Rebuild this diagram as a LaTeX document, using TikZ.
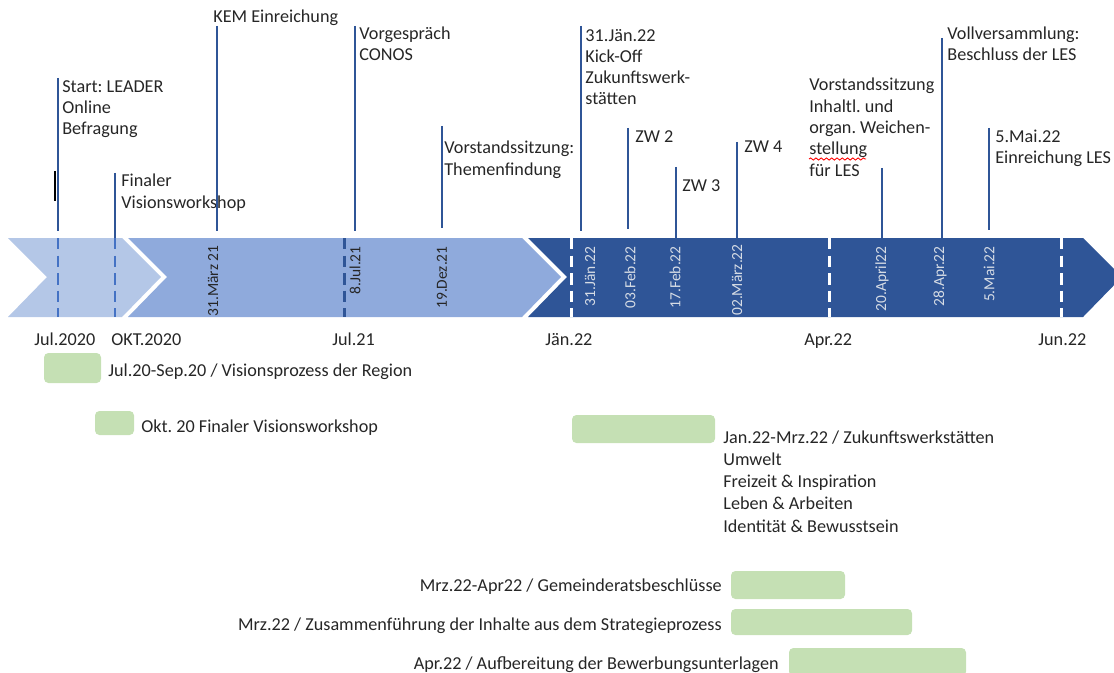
\documentclass[tikz,border=0pt]{standalone}
\usepackage{fontspec}
\setmainfont{Carlito}
\usetikzlibrary{decorations.pathmorphing}
\frenchspacing

\definecolor{bandlight}{HTML}{B4C7E7}
\definecolor{bandmid}{HTML}{8FAADC}
\definecolor{banddark}{HTML}{2F5597}
\definecolor{tickblue}{HTML}{4472C4}
\definecolor{barleaf}{HTML}{C5E0B4}
\definecolor{datelight}{HTML}{D6DCE5}

\begin{document}
\begin{tikzpicture}[
    x=0.02cm, y=-0.02cm,
    every node/.style={
        inner sep=0pt,
        text=black!85,
        font=\fontsize{10.35}{12.1}\selectfont
    },
    evline/.style={draw=banddark, line width=1.2pt},
    bandtick/.style={line width=1.7pt, dash pattern=on 6.5pt off 3.5pt},
    evtext/.style={anchor=base west, align=left},
    datetag/.style={rotate=90, anchor=east, font=\fontsize{8.8}{10}\selectfont},
    ganttbar/.style={fill=barleaf, rounded corners=2.5pt}
]
\useasboundingbox (0,0) rectangle (1114,672);

% Zeitband
\fill[banddark] (528,238) -- (1083,238) -- (1122,277) -- (1083,317) -- (528,317) -- (567,277) -- cycle;
\fill[bandmid] (128,238) -- (522,238) -- (561,277) -- (522,317) -- (128,317) -- (167,277) -- cycle;
\fill[bandlight] (8,238) -- (122,238) -- (161,277) -- (122,317) -- (8,317) -- (47,277) -- cycle;

\draw[bandtick, tickblue] (58,238) -- (58,317);
\draw[bandtick, tickblue] (115,238) -- (115,317);
\draw[bandtick, banddark] (344,238) -- (344,317);
\draw[bandtick, white] (571,238) -- (571,317);
\draw[bandtick, white] (829,238) -- (829,317);
\draw[bandtick, white] (1061,238) -- (1061,317);

% Datum im Band
\node[datetag] (d1) at (213,245) {31.März 21};
\node[datetag] (d2) at (355,246) {8.Jul.21};
\node[datetag] (d3) at (442,246) {19.Dez.21};
\node[datetag, text=datelight] (d4) at (590,246) {31.Jän.22};
\node[datetag, text=datelight] (d5) at (630,246) {03.Feb.22};
\node[datetag, text=datelight] (d6) at (675,246) {17.Feb.22};
\node[datetag, text=datelight] (d7) at (737,244) {02.März.22};
\node[datetag, text=datelight] (d8) at (882,246) {20.April22};
\node[datetag, text=datelight] (d9) at (940,246) {28.Apr.22};
\node[datetag, text=datelight] (d10) at (989,246) {5.Mai.22};

% Achse
\node[anchor=base west] (m1) at (34,345) {Jul.2020};
\node[anchor=base west] (m2) at (111,345) {OKT.2020};
\node[anchor=base west] (m3) at (332,345) {Jul.21};
\node[anchor=base west] (m4) at (545,345) {Jän.22};
\node[anchor=base west] (m5) at (804,345) {Apr.22};
\node[anchor=base west] (m6) at (1038,345) {Jun.22};

% Ereignisse (y = Grundlinie der letzten Zeile)
\node[evtext] (start) at (62,135) {Start: LEADER\\Online\\Befragung};
\coordinate (startTop) at (58,78); \coordinate (startBot) at (58,231);
\draw[evline] (startTop) -- (startBot);
\coordinate (cursorTop) at (55,171); \coordinate (cursorBot) at (55,201);
\draw[black, line width=0.6pt] (cursorTop) -- (cursorBot);

\node[evtext] (finaler) at (121,208) {Finaler\\Visionsworkshop};
\coordinate (finalerTop) at (115,173); \coordinate (finalerBot) at (115,238);
\draw[evline] (finalerTop) -- (finalerBot);

\node[evtext] (kem) at (213,23) {KEM Einreichung};
\coordinate (kemTop) at (217,26); \coordinate (kemBot) at (217,231);
\draw[evline] (kemTop) -- (kemBot);

\node[evtext] (conos) at (359,61) {Vorgespräch\\CONOS};
\coordinate (conosTop) at (355,26); \coordinate (conosBot) at (355,231);
\draw[evline] (conosTop) -- (conosBot);

\node[evtext] (themen) at (444,175) {Vorstandssitzung:\\Themenfindung};
\coordinate (themenTop) at (442,126); \coordinate (themenBot) at (442,228);
\draw[evline] (themenTop) -- (themenBot);

\node[evtext] (kickoff) at (585,105) {31.Jän.22\\Kick-Off\\Zukunftswerk-\\stätten};
\coordinate (kickoffTop) at (581,26); \coordinate (kickoffBot) at (581,231);
\draw[evline] (kickoffTop) -- (kickoffBot);

\node[evtext] (zw2) at (635,143) {ZW 2};
\coordinate (zw2Top) at (628,128); \coordinate (zw2Bot) at (628,229);
\draw[evline] (zw2Top) -- (zw2Bot);

\node[evtext] (zw3) at (682,192) {ZW 3};
\coordinate (zw3Top) at (676,167); \coordinate (zw3Bot) at (676,238);
\draw[evline] (zw3Top) -- (zw3Bot);

\node[evtext] (zw4) at (744,153) {ZW 4};
\coordinate (zw4Top) at (737,142); \coordinate (zw4Bot) at (737,238);
\draw[evline] (zw4Top) -- (zw4Bot);

\node[evtext] (weichen) at (809,176) {Vorstandssitzung\\Inhaltl. und\\organ. Weichen-\\stellung\\für LES};
\coordinate (weichenTop) at (882,168); \coordinate (weichenBot) at (882,238);
\draw[evline] (weichenTop) -- (weichenBot);
\coordinate (wavyA) at (809,159); \coordinate (wavyB) at (866,159);
\draw[red, line width=0.5pt, decorate, decoration={snake, amplitude=0.6pt, segment length=3pt}] (wavyA) -- (wavyB);

\node[evtext] (vollvers) at (947,61) {Vollversammlung:\\Beschluss der LES};
\coordinate (vollversTop) at (942,38); \coordinate (vollversBot) at (942,238);
\draw[evline] (vollversTop) -- (vollversBot);

\node[evtext] (einreich) at (995,164) {5.Mai.22\\Einreichung LES};
\coordinate (einreichTop) at (989,128); \coordinate (einreichBot) at (989,230);
\draw[evline] (einreichTop) -- (einreichBot);

% Balken
\fill[ganttbar] (44,353) rectangle (101,383);
\node[anchor=base west] (b1) at (108,376) {Jul.20-Sep.20 / Visionsprozess der Region};
\fill[ganttbar] (95,411) rectangle (134,435);
\node[anchor=base west] (b2) at (141,432) {Okt. 20 Finaler Visionsworkshop};
\fill[ganttbar] (572,415) rectangle (715,443);
\node[anchor=base west, align=left, font=\fontsize{10.35}{12.6}\selectfont] (b3) at (723,532)
    {Jan.22-Mrz.22 / Zukunftswerkstätten\\Umwelt\\Freizeit \& Inspiration\\Leben \& Arbeiten\\Identität \& Bewusstsein};
\fill[ganttbar] (731,571) rectangle (845,599);
\node[anchor=base east] (b4) at (722,591) {Mrz.22-Apr22 / Gemeinderatsbeschlüsse};
\fill[ganttbar] (731,609) rectangle (912,635);
\node[anchor=base east] (b5) at (722,630) {Mrz.22 / Zusammenführung der Inhalte aus dem Strategieprozess};
\fill[ganttbar] (789,648) rectangle (966,676);
\node[anchor=base east] (b6) at (779,669) {Apr.22 / Aufbereitung der Bewerbungsunterlagen};

\end{tikzpicture}
\end{document}
